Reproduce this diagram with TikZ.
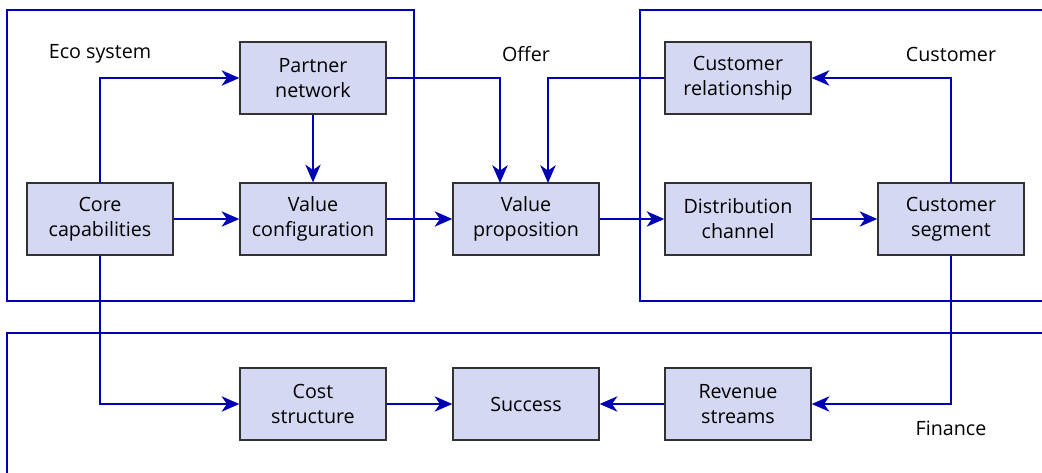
\documentclass[tikz,border=0pt]{standalone}
\usepackage{fontspec}
\setmainfont{Open Sans}
\usetikzlibrary{arrows.meta}
\definecolor{linkblue}{RGB}{0,0,180}
\definecolor{boxfill}{RGB}{213,216,242}
\definecolor{boxline}{RGB}{50,50,50}
\tikzset{
  block/.style={rectangle, draw=boxline, fill=boxfill, line width=0.9pt,
    minimum width=3.65cm, minimum height=1.8cm, align=center,
    font=\fontsize{14}{17.8}\selectfont},
  frame/.style={draw=linkblue, line width=1.9pt},
  link/.style={draw=linkblue, line width=1.9pt,
    -{Stealth[length=4.4mm, width=3.8mm, inset=1.3mm]}},
  tag/.style={font=\fontsize{14}{17.8}\selectfont}
}
\begin{document}
\begin{tikzpicture}[x=0.025cm, y=-0.025cm]
    \clip (0,0) rectangle (1042,473);
    \fill[white] (0,0) rectangle (1042,473);

    % Frames
    \draw[frame] (7,10) rectangle (414,301);
    \draw[frame] (640,10) rectangle (1060,301);
    \draw[frame] (7,333) rectangle (1060,490);

    % Labels
    \node[tag] (eco) at (100,54) {Eco system};
    \node[tag] (offer) at (526,54) {Offer};
    \node[tag] (cust) at (951,54) {Customer};
    \node[tag] (fin) at (951,428) {Finance};

    % Blocks
    \node[block] (partner) at (313,78) {Partner\\network};
    \node[block] (core) at (100,219) {Core\\capabilities};
    \node[block] (config) at (313,219) {Value\\configuration};
    \node[block] (prop) at (526,219) {Value\\proposition};
    \node[block] (relation) at (738,78) {Customer\\relationship};
    \node[block] (channel) at (738,219) {Distribution\\channel};
    \node[block] (segment) at (951,219) {Customer\\segment};
    \node[block] (cost) at (313,404) {Cost\\structure};
    \node[block] (success) at (526,404) {Success};
    \node[block] (revenue) at (738,404) {Revenue\\streams};

    \coordinate (inL) at (500,183);
    \coordinate (inR) at (548,183);

    % Links
    \draw[link] (core.north) |- (partner.west);
    \draw[link] (core) -- (config);
    \draw[link] (partner) -- (config);
    \draw[link] (partner.east) -| (inL);
    \draw[link] (relation.west) -| (inR);
    \draw[link] (config) -- (prop);
    \draw[link] (prop) -- (channel);
    \draw[link] (channel) -- (segment);
    \draw[link] (segment.north) |- (relation.east);
    \draw[link] (core.south) |- (cost.west);
    \draw[link] (cost) -- (success);
    \draw[link] (revenue) -- (success);
    \draw[link] (segment.south) |- (revenue.east);
\end{tikzpicture}
\end{document}
